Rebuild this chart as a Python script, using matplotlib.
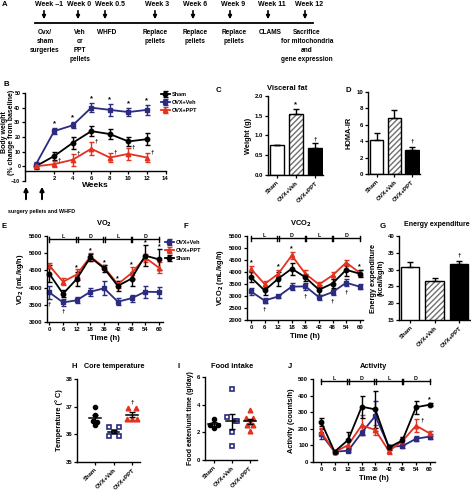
import matplotlib
matplotlib.use('Agg')
import matplotlib.pyplot as plt
from matplotlib.ticker import FormatStrFormatter
import numpy as np

# ================= DATA =================
timeline_weeks = ['Week \u20131', 'Week 0', 'Week 0.5', 'Week 3', 'Week 6', 'Week 9', 'Week 11', 'Week 12']
timeline_events = ['Ovx/\nsham\nsurgeries', 'Veh\nor\nPPT\npellets', 'WHFD',
                   'Replace\npellets', 'Replace\npellets', 'Replace\npellets',
                   'CLAMS', 'Sacrifice\nfor mitochondria\nand\ngene expression']

groups = ['Sham', 'OVX+Veh', 'OVX+PPT']

# B body weight (% change from baseline)
bw_weeks = [0, 2, 4, 6, 8, 10, 12]
bw_sham = [0, 7, 16, 24, 22, 17, 18.5]
bw_sham_err = [2, 2.5, 4, 3.5, 3.5, 3, 4]
bw_veh = [1, 24, 28, 40, 38.5, 37, 38.5]
bw_veh_err = [2, 2, 2, 3, 4, 2.5, 3.5]
bw_ppt = [0, 1.5, 4.5, 12, 6, 8.5, 6]
bw_ppt_err = [1, 2, 4, 4.5, 3, 4, 3]
bw_star = [0, 1, 1, 1, 1, 1, 1]
bw_dagger = [0, 1, 1, 1, 1, 1, 1]

# C visceral fat, D HOMA-IR, G energy expenditure
fat = [0.76, 1.54, 0.68]
fat_err = [0.01, 0.13, 0.12]
homa = [4.1, 6.8, 2.9]
homa_err = [0.85, 0.95, 0.45]
ee = [30.7, 26.5, 31.7]
ee_err = [1.5, 1.0, 1.0]

# E / F / J time courses
time_labels = ['0', '6', '12', '18', '36', '42', '48', '54', '60']
ld_labels = ['L', 'D', 'L', 'D']

vo2_veh = [3860, 3570, 3630, 3880, 3980, 3590, 3690, 3880, 3870]
vo2_veh_err = [180, 110, 90, 120, 200, 100, 100, 180, 160]
vo2_ppt = [4640, 4170, 4380, 4900, 4590, 4100, 4420, 4870, 4580]
vo2_ppt_err = [80, 100, 150, 120, 80, 100, 170, 120, 150]
vo2_sham = [4400, 3820, 4250, 4880, 4560, 4050, 4260, 4930, 4820]
vo2_sham_err = [250, 100, 200, 100, 100, 150, 200, 300, 300]
vo2_star = [0, 0, 1, 1, 1, 1, 1, 1, 1]
vo2_dagger = [1, 1, 0, 0, 0, 0, 0, 0, 0]

vco2_veh = [3190, 2810, 2980, 3390, 3400, 2950, 3160, 3550, 3390]
vco2_veh_err = [130, 120, 80, 150, 130, 100, 120, 150, 100]
vco2_ppt = [4130, 3500, 3920, 4690, 3930, 3480, 3860, 4390, 3970]
vco2_ppt_err = [130, 120, 150, 130, 150, 120, 150, 130, 120]
vco2_sham = [3780, 3230, 3720, 4140, 3780, 3260, 3520, 4090, 3930]
vco2_sham_err = [200, 200, 300, 250, 150, 200, 200, 250, 150]
vco2_star = [1, 0, 1, 1, 0, 0, 0, 0, 1]
vco2_dagger = [0, 1, 0, 0, 1, 0, 1, 1, 0]

act_veh = [169, 62, 68, 177, 277, 92, 96, 140, 153]
act_veh_err = [30, 5, 10, 15, 90, 10, 10, 15, 15]
act_ppt = [183, 60, 102, 221, 193, 66, 126, 219, 173]
act_ppt_err = [20, 5, 30, 60, 30, 15, 25, 40, 15]
act_sham = [243, 62, 133, 333, 317, 88, 130, 330, 345]
act_sham_err = [25, 5, 50, 65, 110, 15, 20, 40, 10]
act_star = [0, 0, 0, 0, 0, 0, 0, 0, 1]
act_dagger = [0, 0, 0, 0, 0, 0, 0, 1, 0]

# H core temperature, I food intake (individual animals)
temp_sham = [37.0, 36.5, 36.45, 36.35, 36.7]
temp_veh = [36.25, 36.25, 35.95, 35.95, 36.1]
temp_ppt = [36.95, 36.95, 36.55, 36.55, 36.55]
food_sham = [3.0, 2.55, 2.5, 2.3]
food_veh = [5.1, 3.1, 2.8, 2.8, 2.0, 1.0]
food_ppt = [3.65, 3.05, 3.05, 2.75, 2.5, 2.5, 2.1]

# ================= STYLE =================
plt.rcParams['font.family'] = ['Liberation Sans', 'DejaVu Sans']
plt.rcParams['font.weight'] = 'bold'
plt.rcParams['axes.labelweight'] = 'bold'
plt.rcParams['axes.linewidth'] = 1.0
plt.rcParams['xtick.major.width'] = 0.9
plt.rcParams['ytick.major.width'] = 0.9
plt.rcParams['xtick.major.size'] = 2.2
plt.rcParams['ytick.major.size'] = 2.2
plt.rcParams['xtick.major.pad'] = 1.5
plt.rcParams['ytick.major.pad'] = 1.2
plt.rcParams['hatch.linewidth'] = 1.0

NAVY = '#2b2b7f'
RED = '#e3321f'
FS_TICK = 4.3
FS_LAB = 5.3
FS_TITLE = 5.4
FS_LET = 5.6

W, H = 471, 493
fig = plt.figure(figsize=(W / 100, H / 100), dpi=100)


def axpx(x0, y0, x1, y1):
    ax = fig.add_axes([x0 / W, 1 - y1 / H, (x1 - x0) / W, (y1 - y0) / H])
    ax.spines['top'].set_visible(False)
    ax.spines['right'].set_visible(False)
    ax.tick_params(labelsize=FS_TICK)
    ax.patch.set_alpha(0)
    return ax


def ftext(x, y, s, **kw):
    kw.setdefault('fontsize', FS_TITLE)
    kw.setdefault('fontweight', 'bold')
    return fig.text(x / W, 1 - y / H, s, **kw)


# ================= A: timeline =================
week_cx = [49, 79, 110, 157, 195, 233, 272, 309]
arrow_x = [44, 78, 105, 155, 193, 230, 268, 305]
event_cx = [45, 80, 107, 155, 195, 234, 270, 307]
ftext(2, 5, 'A', fontsize=FS_LET, va='center')
fig.add_artist(plt.Line2D([35 / W, 313 / W], [1 - 23 / H, 1 - 23 / H], color='k', lw=1.3))
for i, (wl, ev) in enumerate(zip(timeline_weeks, timeline_events)):
    ftext(week_cx[i], 4, wl, fontsize=5.0, ha='center', va='center')
    fig.add_artist(matplotlib.patches.FancyArrowPatch(
        (arrow_x[i] / W, 1 - 8 / H), (arrow_x[i] / W, 1 - 22 / H),
        transform=fig.transFigure, arrowstyle='-|>', mutation_scale=5, lw=1.2, color='k'))
    ftext(event_cx[i], 29, ev, fontsize=4.7, ha='center', va='top', linespacing=1.4)

# ================= B: body weight =================
ax = axpx(24.5, 93, 165.5, 181)
ax.set_xlim(-1.2, 14)
ax.set_ylim(-10, 50)
ax.spines['bottom'].set_position(('data', -3))
ax.set_xticks([2, 4, 6, 8, 10, 12, 14])
ax.set_yticks([-10, 0, 10, 20, 30, 40, 50])
ax.set_yticklabels(['\u221210', '0', '10', '20', '30', '40', '50'])
ax.tick_params(axis='y', labelsize=3.9, pad=0.8)
ekw = dict(lw=1.3, capsize=1.8, elinewidth=1.0, capthick=1.0, ms=3.2, clip_on=False)
lB1 = ax.errorbar(bw_weeks, bw_sham, yerr=bw_sham_err, color='k', marker='o', label='Sham', **ekw)
lB2 = ax.errorbar(bw_weeks, bw_veh, yerr=bw_veh_err, color=NAVY, marker='s', label='OVX+Veh', **ekw)
lB3 = ax.errorbar(bw_weeks, bw_ppt, yerr=bw_ppt_err, color=RED, marker='^', label='OVX+PPT', **ekw)
for w, v, e, s in zip(bw_weeks, bw_veh, bw_veh_err, bw_star):
    if s:
        ax.text(w, v + e + 0.5, '*', ha='center', va='bottom', fontsize=5.5)
for w, v, e, d in zip(bw_weeks, bw_ppt, bw_ppt_err, bw_dagger):
    if d:
        ax.text(w + 0.55, v + e - 1, '\u2020', ha='center', va='bottom', fontsize=4.5)
ax.set_xlabel('Weeks', fontsize=6.0, labelpad=1)
leg = ax.legend(handles=[lB1, lB2, lB3], loc='upper left', bbox_to_anchor=(161 / W, 1 - 92 / H),
                bbox_transform=fig.transFigure, frameon=False, fontsize=4.0, handlelength=1.6,
                handletextpad=0.3, labelspacing=0.55, borderpad=0, borderaxespad=0)
ftext(8, 132, 'Body weight\n(% change from baseline)', fontsize=5.0, rotation=90,
      ha='center', va='center', linespacing=1.1)
ftext(3, 84, 'B', fontsize=FS_LET, va='center')
for axx in (26, 42):
    fig.add_artist(matplotlib.patches.FancyArrowPatch(
        (axx / W, 1 - 202 / H), (axx / W, 1 - 184 / H),
        transform=fig.transFigure, arrowstyle='-|>', mutation_scale=6, lw=1.4, color='k'))
ftext(8, 211, 'surgery pellets and WHFD', fontsize=3.9, ha='left', va='center')


# ================= bar helper =================
def bar_panel(ax, vals, errs):
    x = np.arange(len(vals))
    ax.bar(x[0], vals[0], width=0.75, color='white', edgecolor='k', lw=1.0, zorder=2)
    ax.bar(x[1], vals[1], width=0.75, color='white', edgecolor='#707070', hatch='//////', lw=0, zorder=2)
    ax.bar(x[1], vals[1], width=0.75, fill=False, edgecolor='k', lw=1.0, zorder=3)
    ax.bar(x[2], vals[2], width=0.75, color='k', edgecolor='k', lw=1.0, zorder=2)
    ax.errorbar(x, vals, yerr=[[0] * len(vals), errs], fmt='none', ecolor='k',
                elinewidth=1.0, capsize=2.2, capthick=1.0, zorder=4)
    ax.set_xticks(x)
    ax.set_xticklabels(groups, rotation=45, ha='right', rotation_mode='anchor', fontsize=FS_TICK)
    return x


# C
ax = axpx(268, 96, 323, 175)
x = bar_panel(ax, fat, fat_err)
ax.set_xlim(-0.47, 2.42)
ax.set_ylim(0, 2.0)
ax.set_yticks([0, 0.5, 1.0, 1.5, 2.0])
ax.yaxis.set_major_formatter(FormatStrFormatter('%.1f'))
ax.set_ylabel('Weight (g)', fontsize=FS_LAB, labelpad=2)
ax.text(1, fat[1] + fat_err[1] + 0.03, '*', ha='center', va='bottom', fontsize=5.5)
ax.text(2, fat[2] + fat_err[2] + 0.05, '\u2020', ha='center', va='bottom', fontsize=4.5)
ftext(216, 90, 'C', fontsize=FS_LET, va='center')
ftext(287, 89, 'Visceral fat', ha='center', va='center')

# D
ax = axpx(368, 92, 420, 174)
bar_panel(ax, homa, homa_err)
ax.set_xlim(-0.51, 2.46)
ax.set_ylim(0, 10)
ax.set_yticks([0, 2, 4, 6, 8, 10])
ax.set_ylabel('HOMA-IR', fontsize=FS_LAB, labelpad=3)
ax.text(2, homa[2] + homa_err[2] + 0.4, '\u2020', ha='center', va='bottom', fontsize=4.5)
ftext(346, 90, 'D', fontsize=FS_LET, va='center')

# G
ax = axpx(399, 236, 470, 320)
bar_panel(ax, ee, ee_err)
ax.set_xlim(-0.45, 2.45)
ax.set_ylim(15, 40)
ax.set_yticks([15, 20, 25, 30, 35, 40])
ax.set_ylabel('Energy expenditure\n(kcal/kg/h)', fontsize=FS_LAB, labelpad=2, linespacing=1.1)
ax.text(2, ee[2] + ee_err[2] + 0.8, '\u2020', ha='center', va='bottom', fontsize=4.5)
ftext(380, 226, 'G', fontsize=FS_LET, va='center')
ftext(437, 224, 'Energy expenditure', fontsize=5.0, ha='center', va='center')


# ================= time course helper =================
def ld_bar(ax, y, h):
    n = len(time_labels)
    kw = dict(color='k', lw=1.0, clip_on=False)
    ax.plot([0, n - 1], [y, y], **kw)
    for p in (0, n - 1):
        ax.plot([p, p], [y - h, y + h], **kw)
    for p in (2, 4, 6):
        for d in (-0.06, 0.06):
            ax.plot([p + d, p + d], [y - h, y + h], **kw)
    for i, lab in enumerate(ld_labels):
        ax.text(2 * i + 1, y + h * 0.3, lab, ha='center', va='bottom', fontsize=3.8)


def time_panel(ax, series, stars, daggers, star_gap, dag_gap):
    x = np.arange(len(time_labels))
    handles = []
    for vals, errs, col, mk, lab in series:
        h = ax.errorbar(x, vals, yerr=errs, color=col, marker=mk, label=lab, **ekw)
        handles.append(h)
    tops = np.max([np.array(v) + np.array(e) for v, e, *_ in series], axis=0)
    veh_lo = np.array(series[0][0]) - np.array(series[0][1])
    for i in x:
        if stars[i]:
            ax.text(i, tops[i] + star_gap, '*', ha='center', va='bottom', fontsize=5.0)
        if daggers[i]:
            ax.text(i, veh_lo[i] - dag_gap, '\u2020', ha='center', va='top', fontsize=4.5)
    ax.set_xticks(x)
    ax.set_xticklabels(time_labels, fontsize=FS_TICK)
    ax.set_xlabel('Time (h)', fontsize=FS_LAB + 0.3, labelpad=2)
    return handles


# E
ax = axpx(47, 236, 163, 322)
hE = time_panel(ax, [(vo2_veh, vo2_veh_err, NAVY, 's', 'OVX+Veh'),
                     (vo2_ppt, vo2_ppt_err, RED, '^', 'OVX+PPT'),
                     (vo2_sham, vo2_sham_err, 'k', 'o', 'Sham')],
                vo2_star, vo2_dagger, -40, 80)
ax.set_xlim(-0.17, 8.3)
ax.set_ylim(3000, 5500)
ax.set_yticks(np.arange(3000, 5501, 500))
ax.set_ylabel('VO$_2$ (mL/kg/h)', fontsize=FS_LAB, labelpad=2)
ld_bar(ax, 5400, 80)
ftext(2, 226, 'E', fontsize=FS_LET, va='center')
ftext(104, 224, 'VO$_2$', ha='center', va='center')
ax.legend(handles=hE, loc='upper left', bbox_to_anchor=(165 / W, 1 - 240 / H),
          bbox_transform=fig.transFigure, frameon=False, fontsize=4.0, handlelength=1.6,
          handletextpad=0.3, labelspacing=0.55, borderpad=0, borderaxespad=0)

# F
ax = axpx(247, 236, 363, 320)
time_panel(ax, [(vco2_veh, vco2_veh_err, NAVY, 's', 'OVX+Veh'),
                (vco2_ppt, vco2_ppt_err, RED, '^', 'OVX+PPT'),
                (vco2_sham, vco2_sham_err, 'k', 'o', 'Sham')],
           vco2_star, vco2_dagger, 0, 150)
ax.set_xlim(-0.29, 8.24)
ax.set_ylim(2000, 5500)
ax.set_yticks(np.arange(2000, 5501, 500))
ax.set_ylabel('VCO$_2$ (mL/kg/h)', fontsize=FS_LAB, labelpad=2)
ld_bar(ax, 5400, 110)
ftext(183, 226, 'F', fontsize=FS_LET, va='center')
ftext(301, 224, 'VCO$_2$', ha='center', va='center')

# J
ax = axpx(313, 379, 435, 462)
time_panel(ax, [(act_veh, act_veh_err, NAVY, 's', 'OVX+Veh'),
                (act_ppt, act_ppt_err, RED, '^', 'OVX+PPT'),
                (act_sham, act_sham_err, 'k', 'o', 'Sham')],
           act_star, [0] * 9, 0, 0)
x = np.arange(len(time_labels))
for i in x:
    if act_dagger[i]:
        ax.text(i + 0.45, act_ppt[i] + act_ppt_err[i] - 20, '\u2020', ha='center', va='bottom', fontsize=4.5)
ax.set_xlim(-0.59, 8.4)
ax.set_ylim(0, 500)
ax.set_yticks(np.arange(0, 501, 100))
ax.set_ylabel('Activity (counts/h)', fontsize=FS_LAB, labelpad=2)
ld_bar(ax, 485, 16)
ftext(288, 366, 'J', fontsize=FS_LET, va='center')
ftext(373, 366, 'Activity', ha='center', va='center')


# ================= scatter helper =================
def scatter_panel(ax, data, offsets):
    styles = [dict(marker='o', color='k', mfc='k', mec='k', ms=3.0),
              dict(marker='s', color=NAVY, mfc='white', mec=NAVY, ms=3.4, mew=1.2),
              dict(marker='^', color=RED, mfc=RED, mec=RED, ms=3.4)]
    for i, (vals, offs, st) in enumerate(zip(data, offsets, styles)):
        vals = np.array(vals)
        ax.plot(i + np.array(offs), vals, ls='none', clip_on=False, zorder=3, **st)
        m = vals.mean()
        s = vals.std(ddof=1) / np.sqrt(len(vals))
        ax.plot([i - 0.32, i + 0.32], [m, m], color='k', lw=1.1, zorder=4)
        ax.errorbar(i, m, yerr=s, color='k', capsize=2.0, elinewidth=1.0, capthick=1.0, zorder=4)
    ax.set_xticks(range(len(data)))
    ax.set_xticklabels(groups, rotation=45, ha='right', rotation_mode='anchor', fontsize=FS_TICK)


# H
ax = axpx(77, 379, 140, 462)
scatter_panel(ax, [temp_sham, temp_veh, temp_ppt],
              [[0, -0.12, 0.12, 0, 0], [-0.27, 0.27, -0.27, 0.27, 0], [-0.22, 0.22, -0.25, 0, 0.25]])
ax.set_xlim(-0.97, 2.43)
ax.set_ylim(35, 38)
ax.set_yticks([35, 36, 37, 38])
ax.set_ylabel('Temperature (\u00b0 C)', fontsize=FS_LAB, labelpad=2)
ax.text(2, np.mean(temp_ppt) + 0.35, '\u2020', ha='center', va='bottom', fontsize=4.5)
ftext(72, 366, 'H', fontsize=FS_LET, va='center')
ftext(114, 366, 'Core temperature', fontsize=5.2, ha='center', va='center')

# I
ax = axpx(205, 377, 257, 460)
scatter_panel(ax, [food_sham, food_veh, food_ppt],
              [[0, -0.2, 0.2, 0], [0, -0.25, 0.15, 0.3, 0, 0], [0, -0.2, 0.2, 0, -0.18, 0.18, 0]])
ax.set_xlim(-0.5, 2.4)
ax.set_ylim(0, 6)
ax.set_yticks([0, 2, 4, 6])
ax.set_ylabel('Food eaten/unit time (g/day)', fontsize=FS_LAB - 0.3, labelpad=2)
ftext(178, 366, 'I', fontsize=FS_LET, va='center')
ftext(232, 366, 'Food intake', ha='center', va='center')

fig.savefig('out.png', dpi=100)
